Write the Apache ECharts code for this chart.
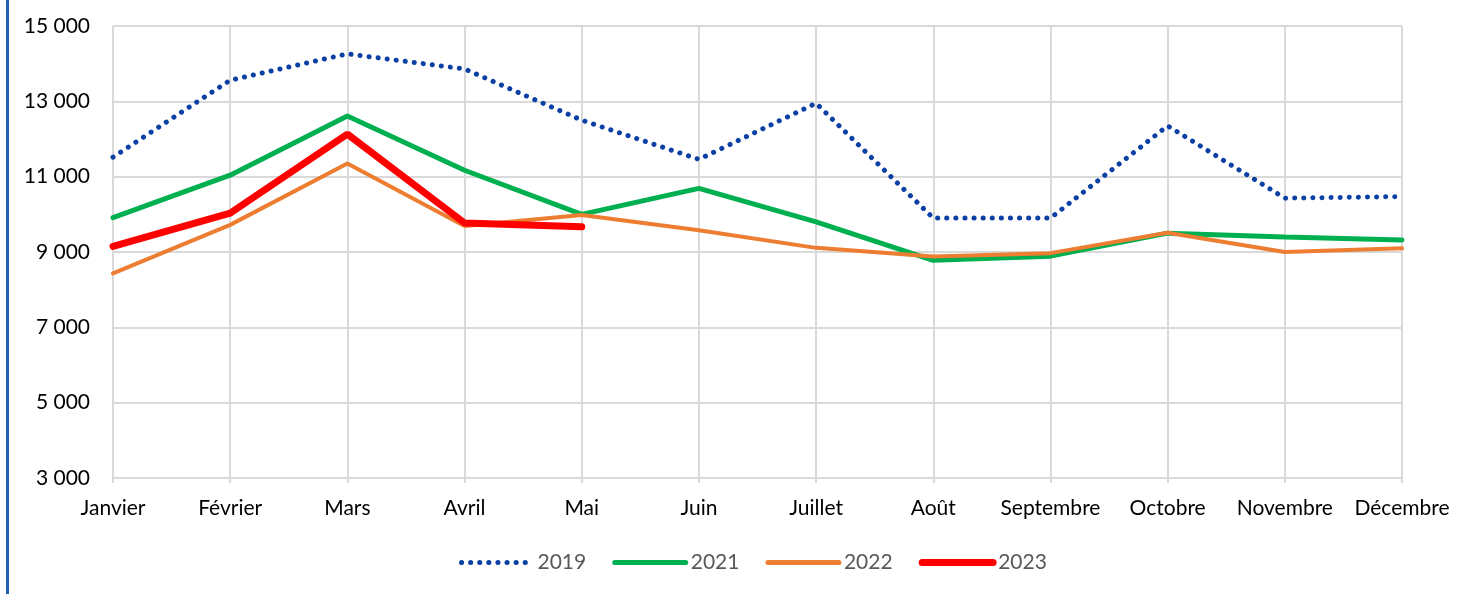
<!DOCTYPE html>
<html>
<head>
<meta charset="utf-8">
<script src="https://cdn.jsdelivr.net/npm/echarts@6/dist/echarts.min.js"></script>
<style>
  html, body { margin: 0; padding: 0; background: #fff; }
  #chart { width: 1464px; height: 594px; }
</style>
</head>
<body>
<div id="chart"></div>
<script>
// mois (axe X)
const months = ['Janvier', 'Février', 'Mars', 'Avril', 'Mai', 'Juin', 'Juillet', 'Août', 'Septembre', 'Octobre', 'Novembre', 'Décembre'];

// valeurs
const values2019 = [11520, 13560, 14260, 13860, 12500, 11460, 12950, 9900, 9900, 12350, 10430, 10470];
const values2021 = [9910, 11040, 12610, 11170, 10000, 10690, 9800, 8780, 8890, 9500, 9400, 9320];
const values2022 = [8430, 9720, 11350, 9690, 9980, 9580, 9110, 8880, 8970, 9510, 9000, 9100];
const values2023 = [9150, 10030, 12130, 9770, 9670];

const yTicks = { min: 3000, max: 15000, step: 2000 };

const FONT = 'Lato';
const gridColor = '#d9d9d9';

const colors = { y2019: '#0a3fa3', y2021: '#00b050', y2022: '#ed7d31', y2023: '#ff0000' };
const dotted = [0.1, 9];

const chart = echarts.init(document.getElementById('chart'));

const option = {
    animation: false,
    textStyle: { fontFamily: FONT },
    grid: { left: 113, right: 62, top: 26, bottom: 116 },
    graphic: [{
        type: 'rect',
        left: 6, top: 0,
        shape: { width: 3, height: 594 },
        style: { fill: '#1f5fb5' }
    }],
    legend: {
        top: 547,
        left: 454,
        itemWidth: 71,
        itemHeight: 14,
        itemGap: 26,
        textStyle: { color: '#595959', fontSize: 21, fontFamily: FONT },
        data: [
            { name: '2019', itemStyle: { opacity: 0 }, lineStyle: { width: 5, type: dotted, cap: 'round' } },
            { name: '2021', itemStyle: { opacity: 0 }, lineStyle: { width: 5, cap: 'round' } },
            { name: '2022', itemStyle: { opacity: 0 }, lineStyle: { width: 5, cap: 'round' } },
            { name: '2023', itemStyle: { opacity: 0 }, lineStyle: { width: 7, cap: 'round' } }
        ]
    },
    xAxis: {
        type: 'category',
        data: months,
        boundaryGap: false,
        axisLine: { lineStyle: { color: gridColor, width: 2 } },
        axisTick: { show: true, length: 5, lineStyle: { color: gridColor, width: 2 } },
        axisLabel: { color: '#000', fontSize: 21, margin: 20, interval: 0 },
        splitLine: { show: true, lineStyle: { color: gridColor, width: 2 } }
    },
    yAxis: {
        type: 'value',
        min: yTicks.min,
        max: yTicks.max,
        interval: yTicks.step,
        axisLine: { show: false },
        axisTick: { show: false },
        axisLabel: {
            color: '#000', fontSize: 21, margin: 23,
            formatter: v => String(v).replace(/\B(?=(\d{3})+(?!\d))/g, ' ')
        },
        splitLine: { lineStyle: { color: gridColor, width: 2 } }
    },
    series: [
        {
            name: '2019', type: 'line', data: values2019, symbol: 'none',
            itemStyle: { color: colors.y2019 },
            lineStyle: { color: colors.y2019, width: 5, type: dotted, cap: 'round' },
            z: 2
        },
        {
            name: '2021', type: 'line', data: values2021, symbol: 'none',
            itemStyle: { color: colors.y2021 },
            lineStyle: { color: colors.y2021, width: 5, cap: 'round' },
            z: 3
        },
        {
            name: '2022', type: 'line', data: values2022, symbol: 'none',
            itemStyle: { color: colors.y2022 },
            lineStyle: { color: colors.y2022, width: 4, cap: 'round' },
            z: 4
        },
        {
            name: '2023', type: 'line', data: values2023, symbol: 'none',
            itemStyle: { color: colors.y2023 },
            lineStyle: { color: colors.y2023, width: 7, cap: 'round' },
            z: 5
        }
    ]
};

chart.setOption(option);
</script>
</body>
</html>
